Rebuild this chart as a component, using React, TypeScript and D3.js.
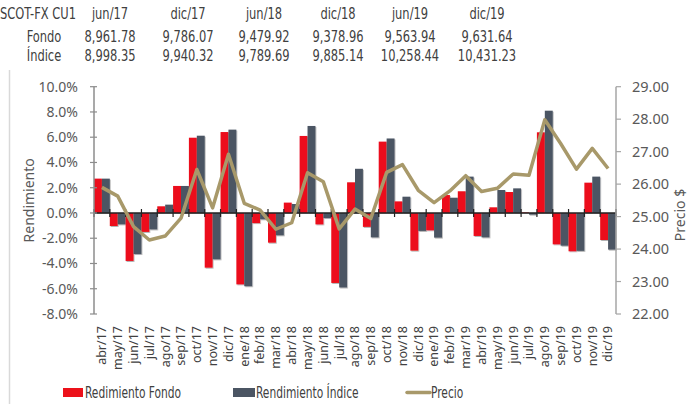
import React from 'react';
import * as d3 from 'd3';

const months = ['abr/17', 'may/17', 'jun/17', 'jul/17', 'ago/17', 'sep/17', 'oct/17', 'nov/17', 'dic/17', 'ene/18', 'feb/18', 'mar/18', 'abr/18', 'may/18', 'jun/18', 'jul/18', 'ago/18', 'sep/18', 'oct/18', 'nov/18', 'dic/18', 'ene/19', 'feb/19', 'mar/19', 'abr/19', 'may/19', 'jun/19', 'jul/19', 'ago/19', 'sep/19', 'oct/19', 'nov/19', 'dic/19'];
const fondo = [2.72, -1.03, -3.8, -1.5, 0.53, 2.14, 5.96, -4.33, 6.41, -5.65, -0.8, -2.35, 0.82, 6.1, -0.9, -5.54, 2.43, -1.1, 5.65, 0.92, -2.98, -1.37, 1.42, 1.72, -1.82, 0.45, 1.66, 0.05, 6.39, -2.48, -3.03, 2.4, -2.14];
const indice = [2.72, -0.9, -3.25, -1.3, 0.66, 2.14, 6.12, -3.67, 6.6, -5.8, -0.5, -1.77, 0.71, 6.89, -0.4, -5.9, 3.5, -1.93, 5.9, 1.29, -1.42, -1.95, 1.21, 2.88, -1.93, 1.82, 1.95, -0.13, 8.1, -2.59, -3.0, 2.88, -2.9];
const precio = [25.9, 25.63, 24.69, 24.28, 24.4, 24.95, 26.45, 25.27, 26.92, 25.41, 25.2, 24.61, 24.81, 26.35, 26.07, 24.62, 25.23, 24.94, 26.36, 26.6, 25.81, 25.43, 25.79, 26.26, 25.77, 25.87, 26.31, 26.27, 27.98, 27.25, 26.46, 27.1, 26.48];

const leftTicks = [10, 8, 6, 4, 2, 0, -2, -4, -6, -8];
const rightTicks = [29, 28, 27, 26, 25, 24, 23, 22];

// tabla de cabecera
const headTitle = 'SCOT-FX CU1';
const headDates = ['jun/17', 'dic/17', 'jun/18', 'dic/18', 'jun/19', 'dic/19'];
const headFondo = ['8,961.78', '9,786.07', '9,479.92', '9,378.96', '9,563.94', '9,631.64'];
const headIndice = ['8,998.35', '9,940.32', '9,789.69', '9,885.14', '10,258.44', '10,431.23'];

const RED = '#ec111a';
const GRAY = '#4b5563';
const GOLD = '#a8996a';
const narrow = "'DejaVu Sans Condensed', sans-serif";
const axisFont = "'Noto Sans', 'Open Sans', sans-serif";

// texto estrecho: fuente condensada comprimida en x
const NText = ({ x, y, sx, anchor, children }: any) => (
  <g transform={`translate(${x}, ${y}) scale(${sx}, 1)`}>
    <text x={0} y={0} textAnchor={anchor || 'start'}>{children}</text>
  </g>
);

export default function App() {
  const W = 696;
  const H = 404;
  const x0 = 94;
  const x1 = 616;
  const yTop = 86.7;
  const yBot = 314;

  const x = d3.scaleBand().domain(months).range([x0, x1]).padding(0);
  const sub = d3.scaleBand().domain(['f', 'i']).range([0, x.bandwidth()]).padding(0);
  const yL = d3.scaleLinear().domain([-8, 10]).range([yBot, yTop]);
  const yR = d3.scaleLinear().domain([22, 29]).range([yBot, yTop]);
  const zero = yL(0);

  const line = d3
    .line<number>()
    .x((d, i) => (x(months[i]) as number) + x.bandwidth() / 2)
    .y((d) => yR(d));

  const colX = [110, 188, 264, 338, 410, 487];
  const hs = 0.85;

  return (
    <svg width={W} height={H} style={{ position: 'absolute', left: 0, top: 0, background: '#fff' }}>
      <defs>
        <filter id="sh" x="-20%" y="-20%" width="140%" height="140%">
          <feDropShadow dx="0.8" dy="1" stdDeviation="0.7" floodColor="#000" floodOpacity="0.3" />
        </filter>
      </defs>
      <rect width={W} height={H} fill="#fff" />
      <line x1={9.5} x2={9.5} y1={70} y2={H} stroke="#d9d9d9" strokeWidth={1.5} />

      {/* cabecera */}
      <g fontFamily={narrow} fontSize={15} fill="#404040">
        <NText x={0} y={19} sx={hs}>{headTitle}</NText>
        <NText x={44} y={42} sx={hs} anchor="middle">Fondo</NText>
        <NText x={44} y={61} sx={hs} anchor="middle">Índice</NText>
        {headDates.map((d, i) => (
          <g key={d}>
            <NText x={colX[i]} y={19} sx={hs} anchor="middle">{d}</NText>
            <NText x={colX[i]} y={42} sx={hs} anchor="middle">{headFondo[i]}</NText>
            <NText x={colX[i]} y={61} sx={hs} anchor="middle">{headIndice[i]}</NText>
          </g>
        ))}
      </g>

      {/* barras */}
      <g filter="url(#sh)">
        {months.map((m, i) => (
          <g key={m}>
            <rect x={(x(m) as number) + (sub('f') as number)} y={Math.min(yL(fondo[i]), zero)} width={sub.bandwidth()} height={Math.abs(yL(fondo[i]) - zero)} fill={RED} />
            <rect x={(x(m) as number) + (sub('i') as number)} y={Math.min(yL(indice[i]), zero)} width={sub.bandwidth()} height={Math.abs(yL(indice[i]) - zero)} fill={GRAY} />
          </g>
        ))}
      </g>

      {/* eje cero con marcas */}
      <line x1={x0} x2={x1} y1={zero} y2={zero} stroke="#222" strokeWidth={1.5} />
      {months.map((m) => (
        <line key={m} x1={x(m) as number} x2={x(m) as number} y1={zero - 4} y2={zero + 4} stroke="#222" strokeWidth={1.2} />
      ))}
      <line x1={x1} x2={x1} y1={zero - 4} y2={zero + 4} stroke="#222" strokeWidth={1.2} />

      {/* precio */}
      <path d={line(precio) as string} fill="none" stroke={GOLD} strokeWidth={3.5} strokeLinejoin="round" />

      {/* eje izquierdo */}
      <g fontFamily={axisFont} fontSize={14} fill="#595959">
        <line x1={x0} x2={x0} y1={yTop} y2={yBot} stroke="#8c8c8c" strokeWidth={1.5} />
        {leftTicks.map((t) => (
          <g key={t}>
            <line x1={x0 - 4} x2={x0 + 3} y1={yL(t)} y2={yL(t)} stroke="#8c8c8c" strokeWidth={1.2} />
            <text x={78} y={yL(t)} dy="0.35em" textAnchor="end">{t.toFixed(1) + '%'}</text>
          </g>
        ))}
        <text transform={`translate(34, ${(yTop + yBot) / 2}) rotate(-90)`} textAnchor="middle">Rendimiento</text>
      </g>

      {/* eje derecho */}
      <g fontFamily={axisFont} fontSize={14.5} fill="#595959">
        <line x1={x1} x2={x1} y1={yTop} y2={yBot} stroke="#a6a6a6" strokeWidth={1.5} />
        {rightTicks.map((t) => (
          <g key={t}>
            <line x1={x1} x2={x1 + 5} y1={yR(t)} y2={yR(t)} stroke="#a6a6a6" strokeWidth={1.2} />
            <text x={632} y={yR(t)} dy="0.35em">{t.toFixed(2)}</text>
          </g>
        ))}
        <text transform={`translate(685, 215) rotate(-90)`} textAnchor="middle" fontSize={14}>Precio $</text>
      </g>

      {/* etiquetas de meses */}
      <g fontFamily={axisFont} fontSize={12.5} fill="#404040">
        {months.map((m) => (
          <text key={m} transform={`translate(${(x(m) as number) + x.bandwidth() / 2}, 326) rotate(-90)`} textAnchor="end" dy="0.35em">{m}</text>
        ))}
      </g>

      {/* leyenda */}
      <g fontFamily={narrow} fontSize={15} fill="#404040">
        <rect x={63} y={388} width={20} height={9} fill={RED} />
        <NText x={85} y={398} sx={0.79}>Redimiento Fondo</NText>
        <rect x={233} y={388} width={22} height={9} fill={GRAY} />
        <NText x={256} y={398} sx={0.79}>Rendimiento Índice</NText>
        <line x1={407} x2={430} y1={392.5} y2={392.5} stroke={GOLD} strokeWidth={3.5} strokeLinecap="round" />
        <NText x={431} y={398} sx={0.79}>Precio</NText>
      </g>
    </svg>
  );
}
